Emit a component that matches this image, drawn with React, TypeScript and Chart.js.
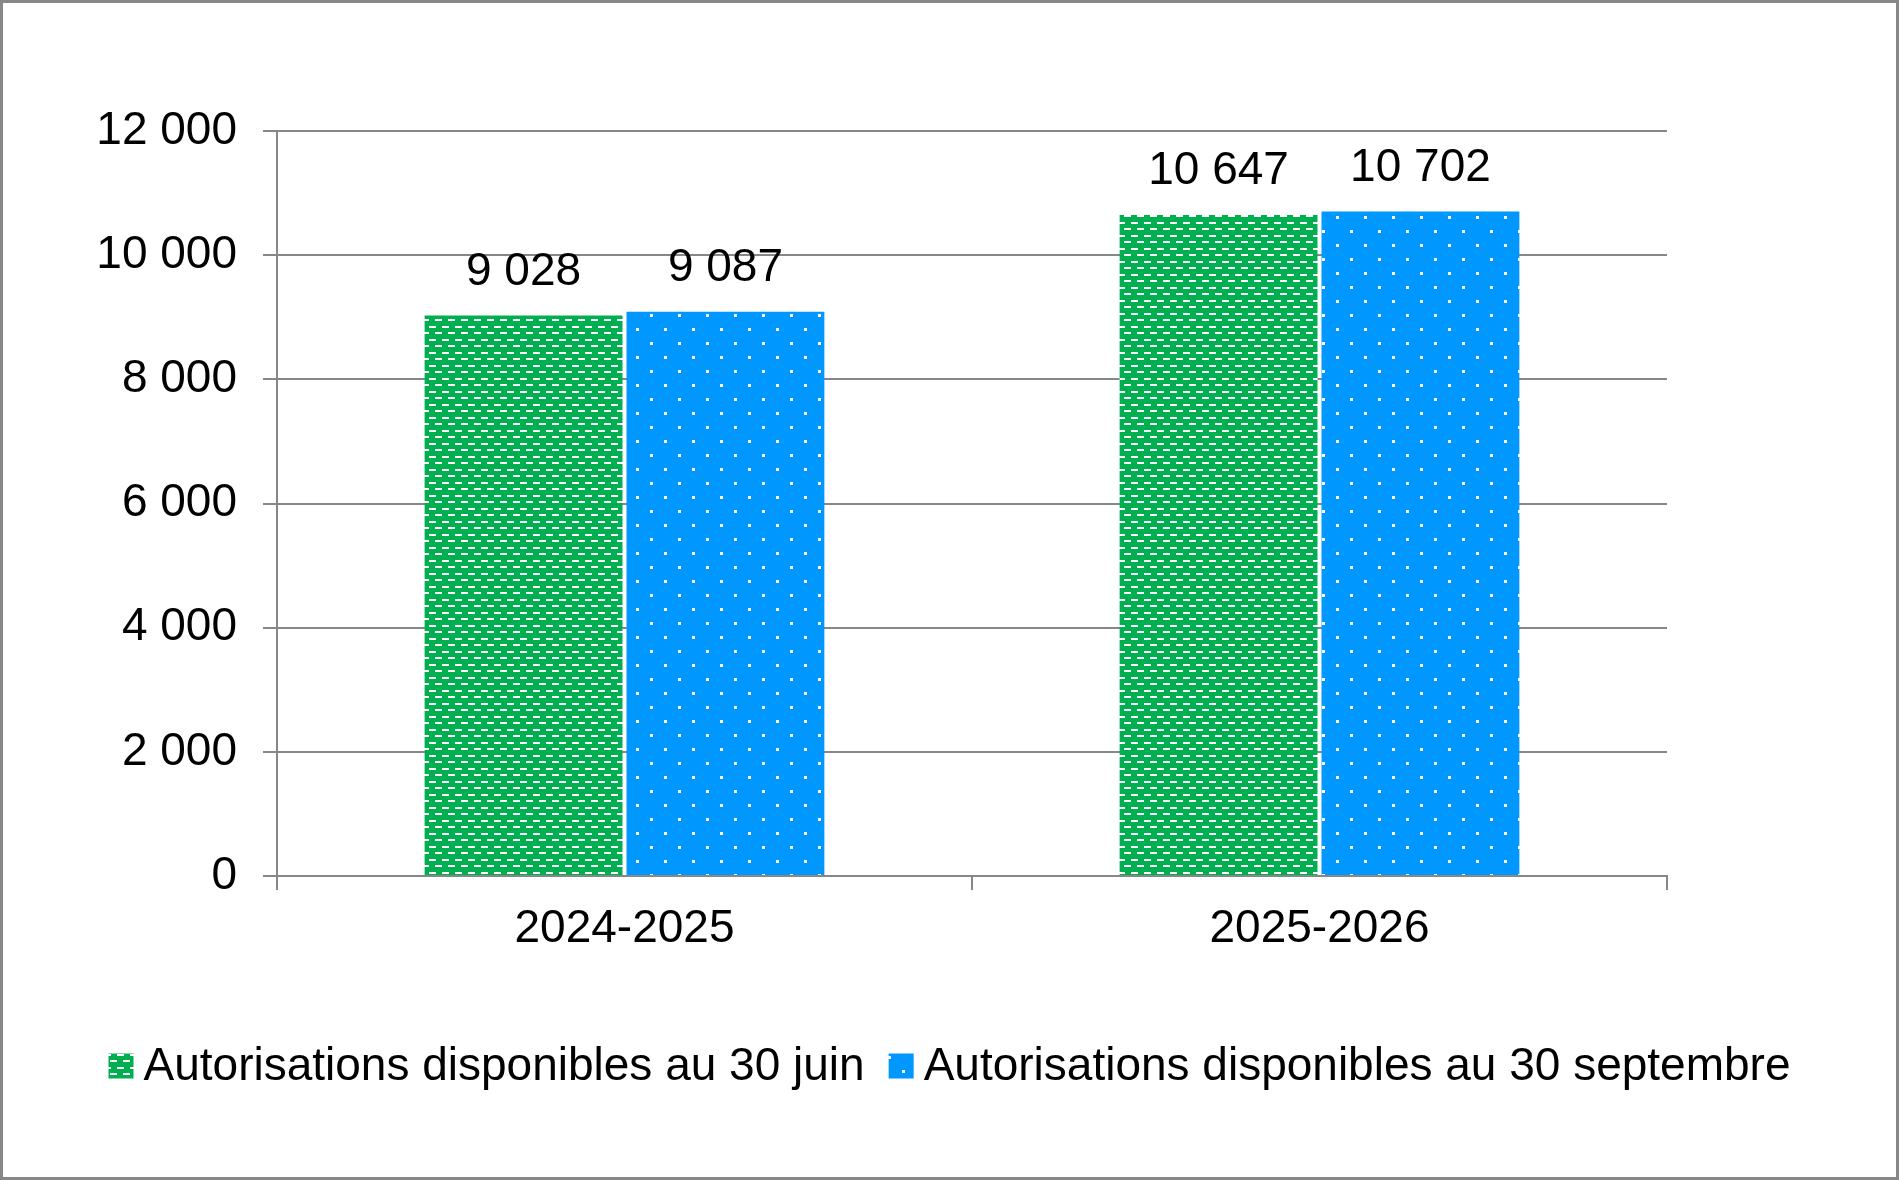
import React, { useEffect, useRef } from "react";
import { Chart, registerables } from "chart.js";

Chart.register(...registerables);

const categories = ["2024-2025", "2025-2026"];
const seriesLabels = [
  "Autorisations disponibles au 30 juin",
  "Autorisations disponibles au 30 septembre",
];
const juneValues = [9028, 10647];
const septValues = [9087, 10702];
const yTicks = [0, 2000, 4000, 6000, 8000, 10000, 12000];

const FONT = '"Liberation Sans", Arial, sans-serif';
const FS = 46;
const GREEN = "#00B050";
const BLUE = "#0098FF";
const GRAY = "#878787";

function fmt(v: number): string {
  return String(Math.round(v)).replace(/\B(?=(\d{3})+(?!\d))/g, " ");
}

function makeGreenPattern(ctx: CanvasRenderingContext2D): CanvasPattern {
  const c = document.createElement("canvas");
  c.width = 13;
  c.height = 13;
  const g = c.getContext("2d")!;
  g.fillStyle = GREEN;
  g.fillRect(0, 0, 13, 13);
  g.fillStyle = "#ffffff";
  g.fillRect(0, 1, 7, 2);
  g.fillRect(6, 7, 7, 2);
  return ctx.createPattern(c, "repeat")!;
}

function makeBluePattern(ctx: CanvasRenderingContext2D): CanvasPattern {
  const c = document.createElement("canvas");
  c.width = 28;
  c.height = 28;
  const g = c.getContext("2d")!;
  g.fillStyle = BLUE;
  g.fillRect(0, 0, 28, 28);
  g.fillStyle = "#ffffff";
  g.fillRect(6, 6, 3, 3);
  g.fillRect(20, 20, 3, 3);
  return ctx.createPattern(c, "repeat")!;
}

const framePlugin = {
  id: "frame",
  beforeDraw(chart: any) {
    const { ctx, width, height } = chart;
    ctx.save();
    ctx.fillStyle = "#ffffff";
    ctx.fillRect(0, 0, width, height);
    ctx.restore();
  },
  afterDraw(chart: any) {
    const { ctx, width, height } = chart;
    ctx.save();
    ctx.strokeStyle = GRAY;
    ctx.lineWidth = 3;
    ctx.strokeRect(1.5, 1.5, width - 3, height - 3);
    ctx.restore();
  },
};

const valueLabelPlugin = {
  id: "valueLabels",
  afterDatasetsDraw(chart: any) {
    const { ctx } = chart;
    ctx.save();
    ctx.font = `${FS}px ${FONT}`;
    ctx.fillStyle = "#000000";
    ctx.textAlign = "center";
    ctx.textBaseline = "alphabetic";
    chart.data.datasets.forEach((ds: any, di: number) => {
      const meta = chart.getDatasetMeta(di);
      meta.data.forEach((bar: any, i: number) => {
        ctx.fillText(fmt(ds.data[i]), bar.x, bar.y - 31);
      });
    });
    ctx.restore();
  },
};

const customLegendPlugin = {
  id: "customLegend",
  afterDraw(chart: any) {
    const { ctx, width } = chart;
    const box = 25;
    const gapText = 10;
    const gapItem = 24;
    const cy = 1066;
    ctx.save();
    ctx.font = `${FS}px ${FONT}`;
    const items = chart.data.datasets.map((ds: any) => ({
      label: ds.label as string,
      fill: ds.backgroundColor,
      w: ctx.measureText(ds.label).width,
    }));
    let total = 0;
    items.forEach((it: any, i: number) => {
      total += box + gapText + it.w + (i > 0 ? gapItem : 0);
    });
    let x = (width - total) / 2;
    items.forEach((it: any, i: number) => {
      if (i > 0) x += gapItem;
      ctx.fillStyle = it.fill;
      ctx.fillRect(x, cy - box / 2, box, box);
      x += box + gapText;
      ctx.fillStyle = "#000000";
      ctx.textAlign = "left";
      ctx.textBaseline = "middle";
      ctx.fillText(it.label, x, cy + 1);
      x += it.w;
    });
    ctx.restore();
  },
};

export default function App() {
  const ref = useRef<HTMLCanvasElement | null>(null);

  useEffect(() => {
    const canvas = ref.current;
    if (!canvas) return;
    const ctx = canvas.getContext("2d")!;
    const greenPat = makeGreenPattern(ctx);
    const bluePat = makeBluePattern(ctx);

    const chart = new Chart(ctx, {
      type: "bar",
      data: {
        labels: categories,
        datasets: [
          {
            label: seriesLabels[0],
            data: juneValues,
            backgroundColor: greenPat as any,
            borderWidth: 0,
            categoryPercentage: 0.581,
            barPercentage: 0.98,
          },
          {
            label: seriesLabels[1],
            data: septValues,
            backgroundColor: bluePat as any,
            borderWidth: 0,
            categoryPercentage: 0.581,
            barPercentage: 0.98,
          },
        ],
      },
      options: {
        responsive: false,
        animation: false,
        devicePixelRatio: 1,
        layout: {
          padding: { left: 0, right: 232, top: 131, bottom: 204 },
        },
        plugins: {
          legend: { display: false },
          tooltip: { enabled: false },
          title: { display: false },
        },
        scales: {
          x: {
            type: "category",
            offset: true,
            grid: {
              offset: true,
              drawOnChartArea: false,
              drawTicks: true,
              tickLength: 14,
              color: GRAY,
              lineWidth: 2,
            },
            border: { display: true, color: GRAY, width: 2 },
            ticks: {
              color: "#000000",
              font: { family: FONT, size: FS },
              padding: 12,
              maxRotation: 0,
            },
            afterFit(scale: any) {
              scale.height = 100;
            },
          },
          y: {
            type: "linear",
            min: 0,
            max: 12000,
            afterBuildTicks(scale: any) {
              scale.ticks = yTicks.map((v) => ({ value: v }));
            },
            grid: {
              drawOnChartArea: true,
              drawTicks: true,
              tickLength: 14,
              color: GRAY,
              lineWidth: 2,
            },
            border: { display: true, color: GRAY, width: 2 },
            ticks: {
              color: "#000000",
              font: { family: FONT, size: FS },
              padding: 26,
              callback: (v: any) => fmt(Number(v)),
            },
            afterFit(scale: any) {
              scale.width = 277;
            },
          },
        },
      },
      plugins: [framePlugin, valueLabelPlugin, customLegendPlugin],
    });

    return () => {
      chart.destroy();
    };
  }, []);

  return (
    <div
      style={{
        position: "fixed",
        left: 0,
        top: 0,
        width: 1899,
        height: 1180,
        background: "#ffffff",
      }}
    >
      <canvas
        ref={ref}
        width={1899}
        height={1180}
        style={{ width: 1899, height: 1180, display: "block" }}
      />
    </div>
  );
}
